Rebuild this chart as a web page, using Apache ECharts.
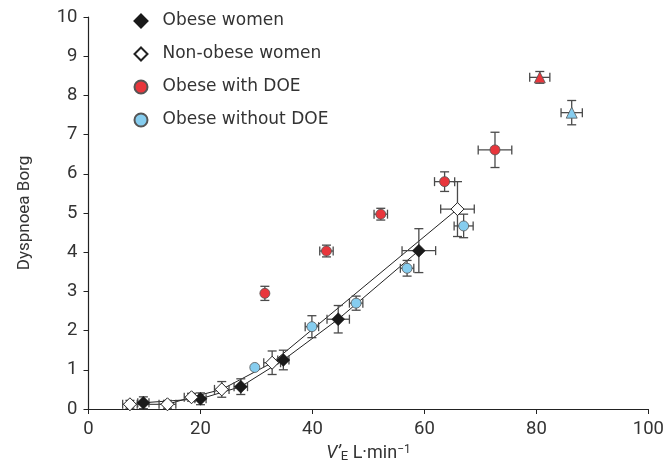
<!DOCTYPE html>
<html><head><meta charset="utf-8">
<script src="https://cdn.jsdelivr.net/npm/echarts@6/dist/echarts.min.js"></script>
<style>html,body{margin:0;padding:0;background:#fff}#c{width:667px;height:468px}</style>
</head><body><div id="c"></div>
<script>
// Obese women (filled diamonds)
const obeseX  = [9.8, 20.0, 27.2, 34.8, 44.6, 59.0];
const obeseY  = [0.16, 0.26, 0.57, 1.25, 2.29, 4.04];
const obeseEX = [1.0, 1.0, 1.2, 1.0, 2.0, 3.0];
const obeseEY = [0.15, 0.15, 0.2, 0.25, 0.35, 0.56];
// Non-obese women (open diamonds)
const nonX  = [7.4, 14.1, 18.4, 23.8, 32.8, 65.9];
const nonY  = [0.12, 0.12, 0.30, 0.50, 1.18, 5.10];
const nonEX = [1.3, 1.5, 1.3, 1.3, 1.5, 3.0];
const nonEY = [0.1, 0.1, 0.1, 0.2, 0.3, 0.7];
// Obese with DOE (red circles)
const doeX  = [31.5, 42.5, 52.2, 63.6, 72.6];
const doeY  = [2.95, 4.03, 4.97, 5.80, 6.61];
const doeEX = [0, 1.2, 1.2, 1.8, 3.0];
const doeEY = [0.18, 0.15, 0.15, 0.25, 0.45];
// Obese without DOE (blue circles)
const noDoeX  = [29.7, 39.9, 47.8, 56.9, 67.0];
const noDoeY  = [1.06, 2.10, 2.70, 3.59, 4.67];
const noDoeEX = [0, 1.2, 1.2, 1.2, 1.7];
const noDoeEY = [0, 0.28, 0.18, 0.2, 0.3];
// Triangles (peak values): x, y, x-error, y-error
const doeTri   = [80.6, 8.46, 1.8, 0.15];
const noDoeTri = [86.3, 7.56, 1.9, 0.31];
const xTicks = [0, 20, 40, 60, 80, 100];
const yTicks = [0,1,2,3,4,5,6,7,8,9,10];

const RED = '#e8363c', BLUE = '#86cdef';
function zip(xs, ys) { return xs.map((x, i) => [x, ys[i]]); }
function zipErr(xs, ys, ex, ey) { return xs.map((x, i) => [x, ys[i], ex[i], ey[i]]); }
const errData = [].concat(
  zipErr(obeseX, obeseY, obeseEX, obeseEY),
  zipErr(nonX, nonY, nonEX, nonEY),
  zipErr(doeX, doeY, doeEX, doeEY),
  zipErr(noDoeX, noDoeY, noDoeEX, noDoeEY),
  [doeTri, noDoeTri]
);
const CAP = 4.5;
function renderErr(params, api) {
  const x = api.value(0), y = api.value(1), ex = api.value(2), ey = api.value(3);
  const c = api.coord([x, y]);
  const st = { stroke: '#4a4a4a', lineWidth: 1.3, fill: null };
  const ch = [];
  if (ex > 0) {
    const l = api.coord([x - ex, y]), r = api.coord([x + ex, y]);
    ch.push({ type: 'line', shape: { x1: l[0], y1: c[1], x2: r[0], y2: c[1] }, style: st });
    ch.push({ type: 'line', shape: { x1: l[0], y1: c[1] - CAP, x2: l[0], y2: c[1] + CAP }, style: st });
    ch.push({ type: 'line', shape: { x1: r[0], y1: c[1] - CAP, x2: r[0], y2: c[1] + CAP }, style: st });
  }
  if (ey > 0) {
    const t = api.coord([x, y + ey]), b = api.coord([x, y - ey]);
    ch.push({ type: 'line', shape: { x1: c[0], y1: t[1], x2: c[0], y2: b[1] }, style: st });
    ch.push({ type: 'line', shape: { x1: c[0] - CAP, y1: t[1], x2: c[0] + CAP, y2: t[1] }, style: st });
    ch.push({ type: 'line', shape: { x1: c[0] - CAP, y1: b[1], x2: c[0] + CAP, y2: b[1] }, style: st });
  }
  return { type: 'group', children: ch };
}
const FONT = 'Roboto';
const LFONT = 'DejaVu Sans';
const chart = echarts.init(document.getElementById('c'), null, { renderer: 'canvas' });
chart.setOption({
  animation: false,
  backgroundColor: '#fff',
  textStyle: { fontFamily: FONT },
  grid: { left: 88.5, right: 18, top: 17, bottom: 59, containLabel: false },
  legend: {
    orient: 'vertical', left: 128.5, top: 7, itemGap: 15, itemWidth: 13, itemHeight: 13,
    textStyle: { fontFamily: LFONT, fontSize: 17, lineHeight: 18, color: '#333', padding: [0, 0, 0, 10] },
    data: ['Obese women', 'Non-obese women', 'Obese with DOE', 'Obese without DOE']
  },
  xAxis: {
    type: 'value', min: 0, max: 100, interval: 20,
    name: '{i|V\u2019}{s|E} L\u00b7min{sup|\u22121}', nameLocation: 'middle', nameGap: 32,
    nameTextStyle: {
      fontFamily: FONT, fontSize: 18, color: '#333',
      rich: {
        i: { fontFamily: FONT, fontSize: 18, fontStyle: 'italic', color: '#333' },
        s: { fontFamily: FONT, fontSize: 13, color: '#333', verticalAlign: 'bottom', padding: [4, 0, 0, 0] },
        sup: { fontFamily: FONT, fontSize: 12, color: '#333', verticalAlign: 'top', padding: [0, 0, 7, 0] }
      }
    },
    axisLine: { lineStyle: { color: '#222', width: 1.2 } },
    axisTick: { length: 5, lineStyle: { color: '#222' } },
    axisLabel: { fontSize: 18.5, color: '#333', margin: 11 },
    splitLine: { show: false }
  },
  yAxis: {
    type: 'value', min: 0, max: 10, interval: 1,
    name: 'Dyspnoea Borg', nameLocation: 'middle', nameGap: 55,
    nameTextStyle: { fontFamily: FONT, fontSize: 17, color: '#333' },
    axisLine: { show: true, lineStyle: { color: '#222', width: 1.2 } },
    axisTick: { show: true, length: 5, lineStyle: { color: '#222' } },
    axisLabel: { fontSize: 18.5, color: '#333', margin: 11 },
    splitLine: { show: false }
  },
  series: [
    { type: 'line', name: 'obeseLine', data: zip(obeseX, obeseY), symbol: 'none', z: 2,
      lineStyle: { color: '#222', width: 1 } },
    { type: 'line', name: 'nonLine', data: zip(nonX, nonY), symbol: 'none', z: 2,
      lineStyle: { color: '#222', width: 1 } },
    { type: 'custom', name: 'err', data: errData, renderItem: renderErr, z: 3 },
    { type: 'scatter', name: 'Obese women', data: zip(obeseX, obeseY), symbol: 'diamond', symbolSize: 13, z: 5,
      itemStyle: { color: '#1a1a1a', borderColor: '#1a1a1a', borderWidth: 0.5, opacity: 1 } },
    { type: 'scatter', name: 'Non-obese women', data: zip(nonX, nonY), symbol: 'diamond', symbolSize: 13, z: 5,
      itemStyle: { color: '#fff', borderColor: '#222', borderWidth: 1, opacity: 1 } },
    { type: 'scatter', name: 'Obese with DOE', data: zip(doeX, doeY), symbol: 'circle', symbolSize: 10, z: 5,
      itemStyle: { color: RED, borderColor: '#555', borderWidth: 0.8, opacity: 1 } },
    { type: 'scatter', name: 'Obese without DOE', data: zip(noDoeX, noDoeY), symbol: 'circle', symbolSize: 10, z: 5,
      itemStyle: { color: BLUE, borderColor: '#555', borderWidth: 0.8, opacity: 1 } },
    { type: 'scatter', name: 'doeTri', data: [[doeTri[0], doeTri[1]]], symbol: 'triangle', symbolSize: 11, z: 5,
      itemStyle: { color: RED, borderColor: '#555', borderWidth: 0.8, opacity: 1 } },
    { type: 'scatter', name: 'noDoeTri', data: [[noDoeTri[0], noDoeTri[1]]], symbol: 'triangle', symbolSize: 11, z: 5,
      itemStyle: { color: BLUE, borderColor: '#555', borderWidth: 0.8, opacity: 1 } }
  ]
});
</script></body></html>
